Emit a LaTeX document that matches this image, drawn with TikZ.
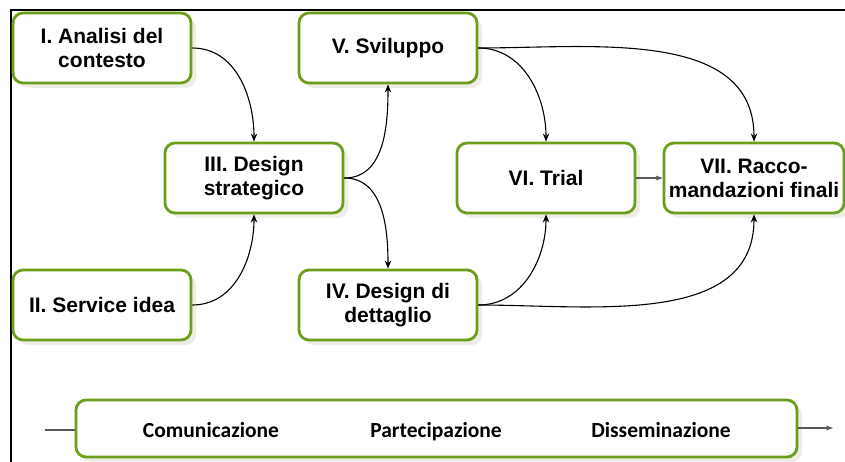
\documentclass[tikz,border=0pt]{standalone}
\usepackage{fontspec}
\setmainfont{Liberation Sans}
\newfontfamily\calfont{Carlito}
\usetikzlibrary{arrows.meta,shadows}
\definecolor{boxgreen}{HTML}{6B9E1A}
\definecolor{shadowgray}{HTML}{EDEDE6}
\tikzset{
  stepbox/.style={draw=boxgreen, line width=2.8pt, fill=white, rounded corners=10pt,
    minimum width=#1, minimum height=70pt, inner sep=0pt, align=center,
    font=\fontsize{21}{24}\selectfont\bfseries,
    drop shadow={shadow xshift=5pt, shadow yshift=-5pt, fill=shadowgray, opacity=1}},
  stepbox/.default=178pt,
  conn/.style={line width=1.1pt, -{Stealth[length=8pt,width=6.5pt,inset=2.5pt]}},
  grayconn/.style={line width=1.1pt, draw=black!65},
  bottomlabel/.style={font=\calfont\fontsize{21.5}{24}\selectfont\bfseries, inner sep=0pt, anchor=base}
}
\begin{document}
\begin{tikzpicture}[x=1pt,y=-1pt]
\useasboundingbox (0,0) rectangle (845,462);
\draw[line width=2.5pt] (11,463) -- (11,10) -- (846,10);

\node[stepbox] (I)   at (102,48)  {I. Analisi del\\contesto};
\node[stepbox] (II)  at (102,305) {II. Service idea};
\node[stepbox] (III) at (254,178) {III. Design\\strategico};
\node[stepbox] (V)   at (388,48)  {V. Sviluppo};
\node[stepbox] (IV)  at (388,305) {IV. Design di\\dettaglio};
\node[stepbox] (VI)  at (546,178) {VI. Trial};
\node[stepbox=180pt] (VII) at (754,178) {VII. Racco-\\mandazioni finali};

\node[draw=boxgreen, line width=2.8pt, fill=white, rounded corners=10pt,
  minimum width=721pt, minimum height=57pt, inner sep=0pt,
  drop shadow={shadow xshift=5pt, shadow yshift=-5pt, fill=shadowgray, opacity=1}]
  (bar) at (436.5,428.5) {};
\node[bottomlabel] (com) at (211,437) {Comunicazione};
\node[bottomlabel] (par) at (436,437) {Partecipazione};
\node[bottomlabel] (dis) at (661,437) {Disseminazione};

\coordinate (lstart) at (45,430);
\coordinate (rend) at (833,428);
\draw[grayconn] (lstart) -- (bar.west |- lstart);
\draw[grayconn, -{Stealth[length=7pt,width=5pt,inset=2pt]}] (bar.east |- rend) -- (rend);

\draw[conn] (I.east) to[out=0,in=90] (III.north);
\draw[conn] (II.east) to[out=0,in=-90] (III.south);
\draw[conn] (III.east) to[out=0,in=-90] (V.south);
\draw[conn] (III.east) to[out=0,in=90] (IV.north);
\draw[conn] (V.east) to[out=0,in=90] (VI.north);
\draw[conn] (V.east) to[out=0,in=90] (VII.north);
\draw[conn] (IV.east) to[out=0,in=-90] (VI.south);
\draw[conn] (IV.east) to[out=0,in=-90] (VII.south);
\draw[grayconn, -{Stealth[length=7pt,width=5pt,inset=2pt]}] (VI.east) -- (VII.west);
\end{tikzpicture}
\end{document}
